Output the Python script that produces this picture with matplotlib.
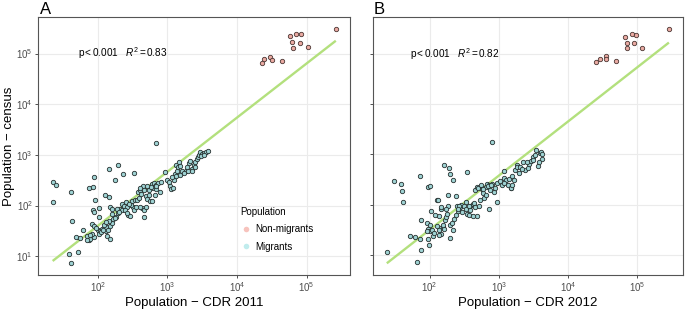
import matplotlib.pyplot as plt
import numpy as np
from matplotlib.lines import Line2D
from matplotlib.ticker import FuncFormatter, LogLocator, NullLocator

plt.rcParams["font.family"] = ["Liberation Sans", "DejaVu Sans"]
plt.rcParams["mathtext.fontset"] = "custom"
plt.rcParams["mathtext.rm"] = "Liberation Sans"
plt.rcParams["mathtext.it"] = "Liberation Sans:italic"

# values, stored as log10(population)
# panel A: CDR 2011 vs census
mig_a_log_cdr = [
    1.35, 1.40, 1.36, 1.62, 1.63, 1.59, 1.61, 1.71, 1.68, 1.74,
    1.78, 1.87, 1.88, 1.84, 1.94, 1.92, 1.94, 1.87, 1.93, 1.96,
    2.01, 2.16, 2.29, 2.25, 2.36, 2.52, 2.10, 2.16, 2.84, 1.93,
    1.94, 2.01, 1.92, 1.95, 2.00, 2.03, 2.06, 2.11, 2.12, 2.14,
    2.18, 2.20, 2.16, 2.22, 2.21, 2.17, 2.20, 2.26, 2.29, 2.32,
    2.34, 2.38, 2.41, 2.42, 2.44, 2.46, 2.49, 2.50, 2.52, 2.53,
    2.56, 2.59, 2.57, 2.61, 2.62, 2.65, 2.66, 2.69, 2.70, 2.73,
    2.75, 2.78, 2.66, 2.64, 2.61, 2.67, 2.69, 2.78, 2.81, 2.83,
    2.86, 2.79, 2.83, 2.82, 2.91, 2.90, 2.97, 3.00, 3.02, 3.03,
    3.05, 3.08, 3.09, 3.11, 3.12, 3.14, 3.15, 3.16, 3.18, 3.21,
    3.26, 3.29, 3.31, 3.33, 3.35, 3.38, 3.40, 3.42, 3.44, 3.46,
    3.47, 3.49, 3.52, 3.55, 3.58, 3.40, 1.84, 2.13, 2.18, 2.02,
    2.05, 2.09, 1.89, 1.97, 2.27, 2.35, 2.48, 2.45, 2.55, 2.60,
    2.73, 2.76, 2.84, 2.71, 3.06, 3.13, 3.18, 3.24, 3.28, 3.36,
    3.48, 3.53, 2.39, 2.42, 2.30, 2.24, 2.12, 2.08,
]
mig_a_log_census = [
    2.46, 2.41, 2.06, 2.27, 1.70, 1.05, 0.86, 1.09, 1.38, 1.36,
    1.51, 1.31, 1.33, 1.39, 1.37, 1.43, 2.57, 2.34, 2.37, 2.10,
    1.96, 2.72, 2.80, 2.50, 2.62, 2.65, 2.20, 2.17, 3.24, 1.91,
    1.87, 1.77, 1.64, 1.60, 1.51, 1.50, 1.54, 1.49, 1.58, 1.51,
    1.59, 1.66, 1.70, 1.73, 1.83, 1.97, 1.94, 1.77, 1.85, 1.94,
    2.03, 2.00, 2.06, 1.97, 1.82, 1.80, 2.08, 1.97, 1.92, 2.10,
    2.11, 2.14, 2.27, 2.31, 2.23, 2.38, 2.30, 2.19, 2.13, 2.20,
    2.09, 2.08, 1.77, 1.95, 1.97, 1.92, 1.97, 2.42, 2.44, 2.40,
    2.44, 2.34, 2.32, 2.21, 2.46, 2.26, 2.67, 2.51, 2.46, 2.39,
    2.32, 2.34, 2.50, 2.63, 2.80, 2.69, 2.77, 2.85, 2.78, 2.69,
    2.69, 2.69, 2.84, 2.88, 2.72, 2.80, 2.85, 2.91, 2.95, 2.99,
    3.06, 3.02, 3.03, 3.06, 3.07, 2.77, 1.31, 1.39, 1.34, 1.43,
    1.47, 1.62, 1.41, 1.56, 1.93, 1.92, 2.01, 2.04, 1.98, 2.34,
    2.30, 2.36, 2.38, 2.39, 2.56, 2.59, 2.60, 2.64, 2.77, 2.69,
    2.97, 2.99, 1.92, 1.85, 1.87, 1.75, 1.67, 1.52,
]
non_a_log_cdr = [4.36, 4.39, 4.48, 4.50, 4.64, 4.76, 4.79, 4.81, 4.85, 4.90, 4.92, 5.02, 5.42]
non_a_log_census = [4.82, 4.90, 4.93, 4.87, 4.85, 5.34, 5.22, 5.11, 5.39, 5.21, 5.38, 5.12, 5.49]

# panel B: CDR 2012 vs census
mig_b_log_cdr = [
    1.38, 1.82, 1.87, 1.48, 1.58, 1.60, 1.61, 1.86, 1.97, 2.00,
    2.21, 2.28, 2.29, 2.34, 2.54, 2.90, 2.11, 2.26, 2.38, 1.71,
    1.79, 1.86, 1.98, 1.87, 1.96, 1.97, 2.00, 2.01, 2.02, 2.03,
    2.05, 2.06, 2.12, 2.13, 2.16, 2.17, 2.15, 2.17, 2.19, 2.21,
    2.22, 2.24, 2.25, 2.27, 2.29, 2.30, 2.33, 2.35, 2.38, 2.39,
    2.41, 2.44, 2.46, 2.50, 2.52, 2.54, 2.57, 2.59, 2.62, 2.64,
    2.65, 2.69, 2.71, 2.73, 2.65, 2.68, 2.70, 2.74, 2.75, 2.77,
    2.79, 2.82, 2.83, 2.86, 2.87, 2.86, 2.82, 2.90, 2.93, 2.95,
    2.97, 2.97, 3.02, 3.04, 3.07, 3.08, 3.10, 3.13, 3.14, 3.17,
    3.18, 3.19, 3.22, 3.24, 3.26, 3.27, 3.29, 3.31, 3.35, 3.38,
    3.42, 3.44, 3.47, 3.50, 3.52, 3.54, 3.56, 3.59, 3.61, 3.63,
    3.63, 3.58, 3.50, 3.41, 3.34, 3.19, 3.07, 2.47, 2.43, 2.41,
    2.34, 2.23, 2.19, 2.59, 2.63, 2.57, 2.52, 2.77, 2.84, 2.88,
    2.08, 2.10, 2.13, 2.13, 1.99, 1.96,
]
mig_b_log_census = [
    1.05, 0.86, 1.09, 2.46, 2.41, 2.27, 2.06, 2.57, 2.34, 2.37,
    2.79, 2.72, 2.61, 2.49, 2.65, 3.24, 2.10, 2.19, 2.17, 1.37,
    1.35, 1.31, 1.31, 1.70, 1.64, 1.51, 1.47, 1.60, 1.87, 1.49,
    1.38, 1.43, 2.10, 1.77, 1.92, 1.95, 1.54, 1.41, 1.56, 1.51,
    1.69, 1.75, 1.82, 1.97, 1.33, 1.59, 1.64, 1.72, 1.79, 1.98,
    1.87, 1.95, 1.99, 1.97, 1.92, 1.82, 1.80, 1.98, 2.02, 2.04,
    1.95, 1.77, 1.97, 2.10, 2.28, 2.34, 2.32, 2.39, 2.31, 2.23,
    2.13, 2.34, 2.41, 2.38, 2.28, 1.92, 2.19, 2.40, 2.25, 2.32,
    2.42, 2.06, 2.46, 2.39, 2.67, 2.53, 2.48, 2.39, 2.51, 2.32,
    2.32, 2.57, 2.48, 2.69, 2.78, 2.75, 2.63, 2.74, 2.85, 2.69,
    2.72, 2.80, 2.87, 2.95, 2.99, 3.08, 2.77, 3.03, 3.05, 3.01,
    2.90, 2.85, 2.88, 2.85, 2.70, 2.39, 2.42, 1.85, 1.98, 1.92,
    1.49, 1.92, 1.59, 1.89, 1.77, 1.97, 2.05, 2.30, 2.36, 2.39,
    1.79, 1.58, 1.49, 1.39, 1.20, 1.47,
]
non_b_log_cdr = [4.41, 4.46, 4.55, 4.55, 4.69, 4.83, 4.85, 4.85, 4.92, 4.96, 4.98, 5.07, 5.46]
non_b_log_census = [4.83, 4.89, 4.95, 4.89, 4.85, 5.34, 5.22, 5.11, 5.39, 5.21, 5.38, 5.12, 5.50]

# fitted lines (log10 census = intercept + slope * log10 CDR)
fit_a = (-0.536, 1.068)
fit_b = (-0.656, 1.077)
stats_a = ("0.001", "0.83")
stats_b = ("0.001", "0.82")

MIG_FILL = "#9fd3d4"
NON_FILL = "#eaaaa2"
EDGE = "#26302f"
LINE = "#b3e07d"


def log_label(value, _pos):
    return rf"$10^{{{int(round(np.log10(value)))}}}$"


def draw_panel(ax, mig_x, mig_y, non_x, non_y, fit, stats, xlabel, show_y):
    mig_x = 10 ** np.array(mig_x)
    mig_y = 10 ** np.array(mig_y)
    non_x = 10 ** np.array(non_x)
    non_y = 10 ** np.array(non_y)

    ax.set_xscale("log")
    ax.set_yscale("log")

    all_x = np.concatenate([mig_x, non_x])
    line_x = np.array([all_x.min(), all_x.max()])
    line_y = 10 ** (fit[0] + fit[1] * np.log10(line_x))
    ax.plot(line_x, line_y, color=LINE, lw=1.7, zorder=2, solid_capstyle="butt")

    ax.scatter(non_x, non_y, s=10, facecolor=NON_FILL, edgecolor="#4a3532", lw=0.6, zorder=3)
    ax.scatter(mig_x, mig_y, s=10, facecolor=MIG_FILL, edgecolor=EDGE, lw=0.6, zorder=3)
    ax.margins(0.05)

    ax.text(10 ** 1.72, 1e5, rf"p$\,$<$\,${stats[0]}   $R^2\,$=$\,${stats[1]}",
            fontsize=7.2, ha="left", va="center", zorder=4)

    for axis in (ax.xaxis, ax.yaxis):
        axis.set_major_locator(LogLocator(base=10, numticks=10))
        axis.set_minor_locator(NullLocator())
        axis.set_major_formatter(FuncFormatter(log_label))
    ax.grid(True, color="#ebebeb", lw=0.8)
    ax.set_axisbelow(True)
    ax.tick_params(length=2.5, width=0.6, color="#333333", labelsize=7,
                   labelcolor="#4d4d4d", pad=1.5, labelleft=show_y)
    for spine in ax.spines.values():
        spine.set_color("#555555")
        spine.set_linewidth(0.8)
    ax.set_xlabel(xlabel, fontsize=9.5, labelpad=2)


fig = plt.figure(figsize=(6.85, 3.09), dpi=100)
ax_a = fig.add_axes([0.0562, 0.110, 0.4547, 0.835])
ax_b = fig.add_axes([0.5441, 0.110, 0.4530, 0.835])

draw_panel(ax_a, mig_a_log_cdr, mig_a_log_census, non_a_log_cdr, non_a_log_census,
           fit_a, stats_a, "Population − CDR 2011", True)
draw_panel(ax_b, mig_b_log_cdr, mig_b_log_census, non_b_log_cdr, non_b_log_census,
           fit_b, stats_b, "Population − CDR 2012", False)

fig.text(0.0125, 0.527, "Population − census", rotation=90, fontsize=9.5,
         ha="center", va="center")
fig.text(0.059, 0.956, "A", fontsize=12, ha="left", va="baseline")
fig.text(0.545, 0.956, "B", fontsize=12, ha="left", va="baseline")

handles = [
    Line2D([], [], ls="none", marker="o", markersize=4, markerfacecolor="#f7c3bd",
           markeredgewidth=0, label="Non-migrants"),
    Line2D([], [], ls="none", marker="o", markersize=4, markerfacecolor="#c0eced",
           markeredgewidth=0, label="Migrants"),
]
leg = ax_a.legend(handles=handles, title="Population", loc="upper left",
                  bbox_to_anchor=(0.625, 0.29), frameon=False, fontsize=7,
                  title_fontsize=7, handletextpad=0.4, labelspacing=0.75,
                  handlelength=1.2, borderpad=0.2, alignment="left")

fig.savefig("out.png", dpi=100)
